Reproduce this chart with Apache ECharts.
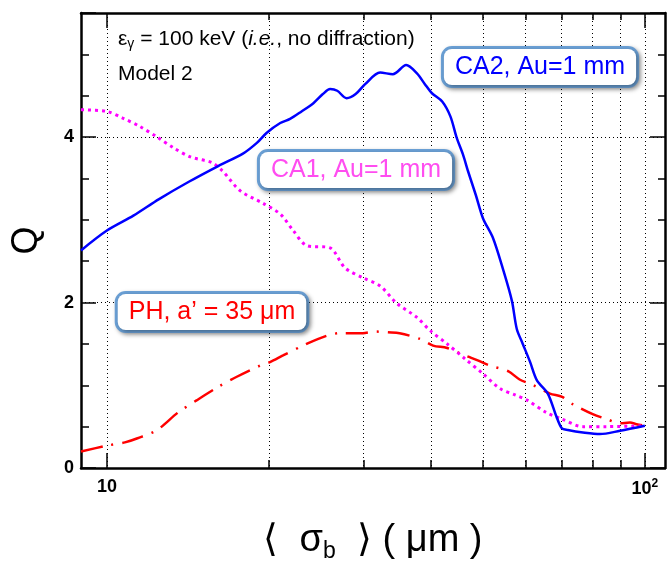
<!DOCTYPE html>
<html>
<head>
    <meta charset="utf-8">
    <script src="https://cdn.jsdelivr.net/npm/echarts@6/dist/echarts.min.js"></script>
    <style>
        html, body { margin: 0; padding: 0; background: #fff; }
    </style>
</head>
<body>
    <div id="main" style="width: 667px;height:572px;"></div>
    <script type="text/javascript">
        // CA2, Au=1 mm  [sigma_b (um), Q]
        var ca2 = [
            [8.95, 2.63], [10, 2.87], [11.2, 3.05], [12.5, 3.25], [14.2, 3.46], [16.1, 3.65],
            [17.9, 3.80], [19.0, 3.93], [19.8, 4.05], [21.0, 4.17], [21.9, 4.22], [23.0, 4.31],
            [24.2, 4.41], [25.2, 4.52], [26.0, 4.58], [26.8, 4.56], [27.9, 4.47], [29.0, 4.52],
            [30.2, 4.64], [32.2, 4.78], [34.0, 4.76], [36.0, 4.87], [37.7, 4.77], [39.0, 4.64],
            [40.2, 4.53], [42.0, 4.43], [43.5, 4.25], [44.7, 3.99], [45.9, 3.79], [46.9, 3.59],
            [48.5, 3.30], [50.0, 3.02], [52.2, 2.78], [54.5, 2.40], [56.6, 2.02], [57.8, 1.68],
            [59.3, 1.50], [61.2, 1.28], [63.0, 1.06], [66.0, 0.90], [68.5, 0.62], [70.1, 0.48],
            [71.9, 0.46], [76.7, 0.43], [82.5, 0.41], [89.9, 0.45], [100, 0.51]
        ];
        // CA1, Au=1 mm
        var ca1 = [
            [8.95, 4.33], [10, 4.31], [10.7, 4.23], [11.5, 4.13], [12.4, 4.00], [13.3, 3.87],
            [14.3, 3.76], [15.7, 3.69], [16.4, 3.59], [17.7, 3.35], [19.5, 3.20], [21.0, 3.07],
            [22.2, 2.87], [23.5, 2.69], [26.0, 2.66], [27.7, 2.42], [29.9, 2.30], [32.2, 2.20],
            [34.6, 1.99], [37.7, 1.82], [39.9, 1.66], [42.9, 1.50], [46.3, 1.32], [50.0, 1.14],
            [53.8, 0.96], [57.5, 0.88], [60.4, 0.82], [65.6, 0.67], [70.2, 0.59], [76.7, 0.50],
            [85, 0.50], [100, 0.51]
        ];
        // PH, a' = 35 um
        var ph = [
            [8.95, 0.20], [10, 0.27], [10.8, 0.31], [11.4, 0.36], [12.4, 0.46], [13.55, 0.67],
            [14.7, 0.82], [16.1, 0.98], [17.4, 1.10], [19.3, 1.24], [20.1, 1.28], [21.25, 1.36],
            [23.5, 1.50], [25.65, 1.60], [27.1, 1.63], [29.9, 1.63], [31.5, 1.65], [33.3, 1.64],
            [35.0, 1.63], [38.2, 1.56], [40.4, 1.48], [42.9, 1.45], [46.3, 1.36], [48.9, 1.30],
            [51.4, 1.24], [55.7, 1.17], [58.5, 1.07], [61.6, 1.01], [66.6, 0.90], [70.2, 0.86],
            [73.5, 0.77], [80.0, 0.65], [85, 0.59], [89.9, 0.54], [93.8, 0.55], [96.5, 0.53],
            [100, 0.51]
        ];

        var xMajor = [10, 100];
        var xMinor = [20, 30, 40, 50, 60, 70, 80, 90];
        var yLabels = [0, 2, 4];

        var chartDom = document.getElementById('main');
        var myChart = echarts.init(chartDom);

        var FONT = 'Liberation Sans, Arial, Helvetica, sans-serif';
        var dotted = { color: '#000', width: 1, type: [1, 3] };
        var frame = { color: '#000', width: 2.5 };

        function xAxisBase(pos, ticks, len, extra) {
            return Object.assign({
                type: 'log',
                logBase: 10,
                position: pos,
                min: 8.95,
                max: 109,
                axisLine: { show: false, onZero: false },
                axisTick: { inside: true, length: len, customValues: ticks, lineStyle: { color: '#000', width: 1.5 } },
                axisLabel: { show: false },
                splitLine: { show: false },
                minorTick: { show: false }
            }, extra || {});
        }

        function yAxisBase(pos, interval, len, extra) {
            return Object.assign({
                type: 'value',
                position: pos,
                min: 0,
                max: 5.5,
                interval: interval,
                axisLine: { show: false, onZero: false },
                axisTick: { inside: true, length: len, lineStyle: { color: '#000', width: 1.5 } },
                axisLabel: { show: false },
                splitLine: { show: false }
            }, extra || {});
        }

        var option = {
            animation: false,
            backgroundColor: '#fff',
            grid: { left: 81, right: 2, top: 13, bottom: 104 },
            xAxis: [
                xAxisBase('bottom', xMinor, 8, {
                    axisLine: { show: true, onZero: false, lineStyle: frame },
                    splitLine: { show: true, lineStyle: dotted },
                    axisLabel: {
                        show: true,
                        customValues: xMajor,
                        margin: 10,
                        formatter: function (v) {
                            return Math.round(v) === 100 ? '{b|10}{s|2}' : '{b|' + Math.round(v) + '}';
                        },
                        rich: {
                            b: { fontSize: 18, fontWeight: 'bold', color: '#000', fontFamily: FONT },
                            s: { fontSize: 12, fontWeight: 'bold', color: '#000', fontFamily: FONT, padding: [0, 0, 10, 0] }
                        }
                    },
                    name: '{a|\u27e8  σ}{sub|b}{a|  \u27e9 ( μm )}',
                    nameLocation: 'middle',
                    nameGap: 50,
                    nameTextStyle: {
                        rich: {
                            a: { fontSize: 38, color: '#000', fontFamily: FONT },
                            sub: { fontSize: 23, color: '#000', fontFamily: FONT, padding: [22, 0, 0, 0] }
                        }
                    }
                }),
                xAxisBase('bottom', xMajor, 15, { splitLine: { show: true, lineStyle: dotted } }),
                xAxisBase('top', xMinor, 7, { axisLine: { show: true, onZero: false, lineStyle: frame } }),
                xAxisBase('top', xMajor, 15)
            ],
            yAxis: [
                yAxisBase('left', 0.5, 8, {
                    axisLine: { show: true, onZero: false, lineStyle: frame },
                    axisLabel: {
                        show: true,
                        margin: 7,
                        fontSize: 18,
                        fontWeight: 'bold',
                        color: '#000',
                        fontFamily: FONT,
                        formatter: function (v) {
                            return yLabels.indexOf(v) >= 0 ? String(v) : '';
                        }
                    },
                    name: 'Q',
                    nameLocation: 'middle',
                    nameGap: 36,
                    nameRotate: 90,
                    nameTextStyle: { fontSize: 36, color: '#000', fontFamily: FONT }
                }),
                yAxisBase('left', 2, 15, { splitLine: { show: true, lineStyle: dotted } }),
                yAxisBase('right', 0.5, 7, { axisLine: { show: true, onZero: false, lineStyle: frame } }),
                yAxisBase('right', 2, 15)
            ],
            series: [
                {
                    name: 'PH',
                    type: 'line',
                    data: ph,
                    showSymbol: false,
                    symbol: 'none',
                    smooth: 0.3,
                    lineStyle: { color: '#ff0000', width: 2.5, type: [22, 9, 2, 9] },
                    z: 3
                },
                {
                    name: 'CA1',
                    type: 'line',
                    data: ca1,
                    showSymbol: false,
                    symbol: 'none',
                    smooth: 0.3,
                    lineStyle: { color: '#ff00ff', width: 3, type: [3, 4] },
                    z: 4
                },
                {
                    name: 'CA2',
                    type: 'line',
                    data: ca2,
                    showSymbol: false,
                    symbol: 'none',
                    smooth: 0.3,
                    lineStyle: { color: '#0000ff', width: 2.5 },
                    z: 5
                }
            ],
            graphic: [
                {
                    type: 'text',
                    left: 118,
                    top: 29,
                    style: {
                        text: '{t|ε}{g|γ}{t| = 100 keV (}{i|i.e.}{t|, no diffraction)}',
                        rich: {
                            t: { fontSize: 21, fill: '#000', fontFamily: FONT },
                            i: { fontSize: 21, fill: '#000', fontFamily: FONT, fontStyle: 'italic' },
                            g: { fontSize: 14, fill: '#000', fontFamily: FONT, padding: [9, 0, 0, 0] }
                        }
                    }
                },
                {
                    type: 'text',
                    left: 118,
                    top: 64,
                    style: { text: 'Model 2', fontSize: 21, fill: '#000', fontFamily: FONT }
                },
                labelBox('CA2, Au=1 mm', '#0000ff', 540, 67),
                labelBox('CA1, Au=1 mm', '#ff4df0', 356, 170),
                labelBox('PH, a\u2019 = 35 μm', '#ff0000', 212, 312)
            ]
        };

        function labelBox(text, color, cx, cy) {
            return {
                type: 'text',
                x: cx,
                y: cy,
                z: 20,
                style: {
                    text: text,
                    fill: color,
                    fontSize: 25,
                    fontFamily: FONT,
                    align: 'center',
                    verticalAlign: 'middle',
                    backgroundColor: '#fff',
                    borderColor: '#6a9fd4',
                    borderWidth: 3,
                    borderRadius: 8,
                    padding: [6, 11, 5, 11],
                    shadowColor: 'rgba(0,0,0,0.35)',
                    shadowBlur: 4,
                    shadowOffsetX: 2,
                    shadowOffsetY: 2
                }
            };
        }

        myChart.setOption(option);
    </script>
</body>
</html>
